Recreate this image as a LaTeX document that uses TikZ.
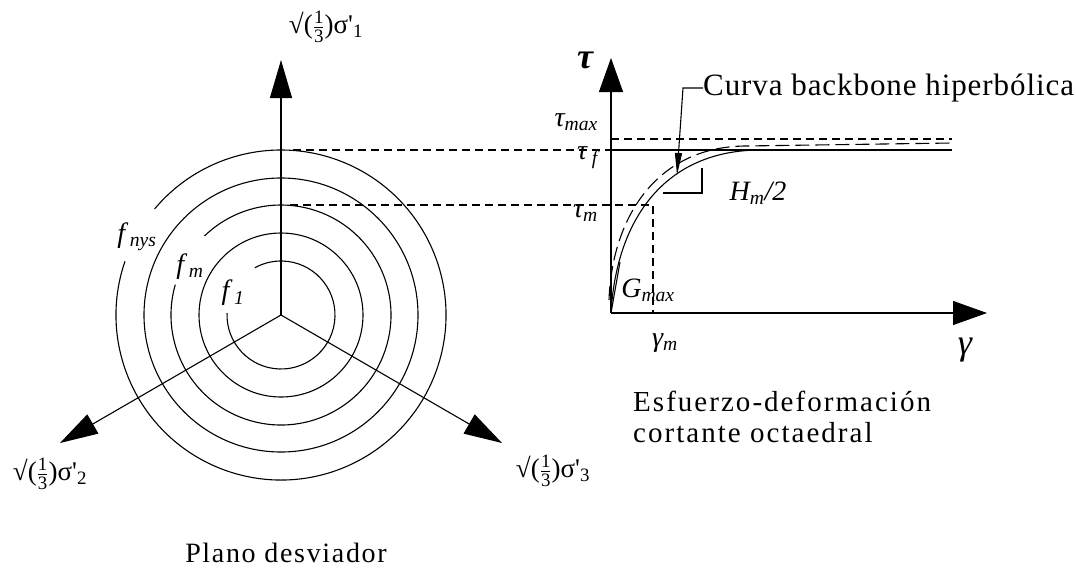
\documentclass[tikz,border=0pt]{standalone}
\usepackage{amsmath}
\usepackage{fontspec}
\setmainfont{Liberation Serif}
\usetikzlibrary{arrows.meta}
\tikzset{
    ax/.style={line width=1.1pt, -{Triangle[length=38pt,width=22pt]}}, % ejes del plano desviador
    gax/.style={line width=1.1pt, -{Triangle[length=34pt,width=24pt]}}, % ejes tau-gamma
    ln/.style={line width=1.1pt},
    dsh/.style={line width=1.1pt, dash pattern=on 8pt off 5pt},
    ldsh/.style={line width=1.1pt, dash pattern=on 14pt off 6pt},
    lbl/.style={font=\fontsize{27}{29}\selectfont, inner sep=0pt},
    ilbl/.style={font=\fontsize{28}{30}\selectfont\itshape, inner sep=0pt}
}
\newcommand{\sqthird}[1]{√($\genfrac{}{}{0.6pt}{1}{\text{1}}{\text{3}}$)σ\textquotesingle\textsubscript{#1}}
\newcommand{\spaced}{\addfontfeatures{LetterSpace=6}}

\begin{document}
\begin{tikzpicture}[x=1pt,y=-1pt]
	\useasboundingbox (0,0) rectangle (1076,571);

	% plano desviador
	\coordinate (c) at (281,315);
	\coordinate (t1) at (281,60);
	\coordinate (t2) at (60,443);
	\coordinate (t3) at (502,443);
	\draw[ax] (c) -- (t1);
	\draw[ax] (c) -- (t2);
	\draw[ax] (c) -- (t3);

	\draw[ln] (c) ++(-161:165) arc[start angle=-161, end angle=-500, radius=165];
	\draw[ln] (c) circle[radius=137];
	\draw[ln] (c) ++(-164:110) arc[start angle=-164, end angle=-494, radius=110];
	\draw[ln] (c) circle[radius=82];
	\draw[ln] (c) ++(-178:54) arc[start angle=-178, end angle=-479, radius=54];

	\node[ilbl] (fnys) at (137,237) {f\,\textsubscript{nys}};
	\node[ilbl] (fm) at (190,267) {f\,\textsubscript{m}};
	\node[ilbl] (f1) at (233,293) {f\,\textsubscript{1}};

	\node[lbl] (s1) at (326,27) {\sqthird{1}};
	\node[lbl] (s2) at (50,474) {\sqthird{2}};
	\node[lbl] (s3) at (553,471) {\sqthird{3}};
	\node[lbl, font=\fontsize{28}{30}\selectfont\spaced] (pd) at (286,553) {Plano desviador};

	% curva esfuerzo-deformacion
	\coordinate (o) at (611,313);
	\coordinate (ty) at (611,58);
	\coordinate (gx) at (987,313);
	\draw[gax] (o) -- (ty);
	\draw[gax] (o) -- (gx);

	\coordinate (tf0) at (611,150);
	\coordinate (tf1) at (952,150);
	\coordinate (tx0) at (611,139);
	\coordinate (tx1) at (952,139);
	\coordinate (m) at (653,205);
	\coordinate (mg) at (653,313);
	\draw[ln] (tf0) -- (tf1);
	\draw[dsh] (tx0) -- (tx1);
	\draw[dsh] (293,150) -- (tf0);
	\draw[dsh] (290,205) -- (m) -- (mg);

	\draw[ln] (o) .. controls (616,225) and (660,152) .. (757,150);
	\draw[ldsh] (609,300) .. controls (612,218) and (656,147) .. (745,146) -- (952,143);
	\draw[ln] (o) -- (620,262);
	\draw[ln] (663,193) -- (702,193) -- (702,168);

	\node[font=\fontsize{36}{36}\selectfont\bfseries\itshape, inner sep=0pt] (tau) at (585,60) {τ};
	\node[font=\fontsize{36}{36}\selectfont\itshape, inner sep=0pt] (gam) at (965,350) {γ};
	\node[ilbl, anchor=east] (tmax) at (598,122) {τ\textsubscript{max}};
	\node[ilbl, anchor=east] (tf) at (598,158) {τ\,\textsubscript{f}};
	\node[ilbl, anchor=east] (tm) at (598,213) {τ\textsubscript{m}};
	\node[ilbl] (gmax) at (648,290) {G\textsubscript{max}};
	\node[ilbl] (gm) at (665,343) {γ\textsubscript{m}};
	\node[ilbl] (hm) at (758,193) {H\textsubscript{m}/2};

	\node[lbl, font=\fontsize{31}{33}\selectfont\addfontfeatures{LetterSpace=3}, anchor=west] (cb) at (703,88) {Curva backbone hiperbólica};
	\draw[ln, -{Triangle[length=22pt,width=7pt]}] (cb.west) -- ++(-20,0) -- (677,175);

	\node[lbl, anchor=north west, align=left, font=\fontsize{29}{31}\selectfont\addfontfeatures{LetterSpace=7}] (ed) at (633,391) {Esfuerzo-deformación\\cortante octaedral};
\end{tikzpicture}
\end{document}
